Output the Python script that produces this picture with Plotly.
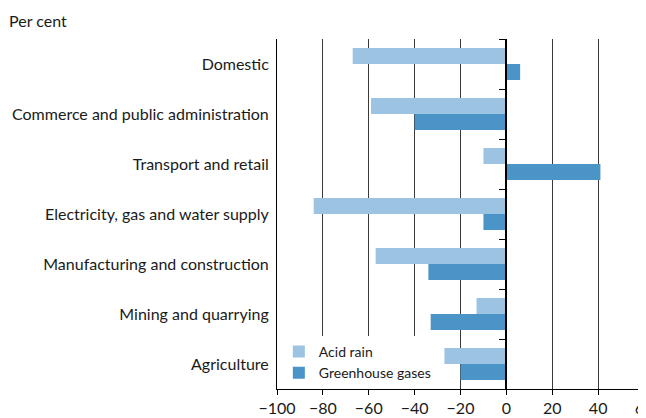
import plotly.graph_objects as go

sectors = [
    "Domestic",
    "Commerce and public administration",
    "Transport and retail",
    "Electricity, gas and water supply",
    "Manufacturing and construction",
    "Mining and quarrying",
    "Agriculture",
]
acid_rain = [-67, -59, -10, -84, -57, -13, -27]
greenhouse = [6, -40, 41, -10, -34, -33, -20]

light_blue = "#9cc3e2"
dark_blue = "#4b94c8"
font_name = "Lato"

fig = go.Figure()
fig.add_trace(go.Bar(y=sectors, x=acid_rain, orientation="h", name="Acid rain",
                     marker=dict(color=light_blue, line_width=0)))
fig.add_trace(go.Bar(y=sectors, x=greenhouse, orientation="h", name="Greenhouse gases",
                     marker=dict(color=dark_blue, line_width=0)))
# invisible trace so the zero axis has its categories
fig.add_trace(go.Scatter(y=sectors, x=[0] * len(sectors), yaxis="y2", mode="markers",
                         marker=dict(opacity=0), showlegend=False, hoverinfo="skip"))

# page body has an 8px margin, so the figure is sized to fit the window
fig.update_layout(
    width=638, height=410,
    margin=dict(l=269, r=2, t=31, b=29),
    paper_bgcolor="white", plot_bgcolor="white",
    font=dict(family=font_name, size=16, color="#1a1a1a"),
    barmode="group", bargap=0.36, bargroupgap=0,
    xaxis=dict(range=[-100, 60], dtick=20, showgrid=True, gridcolor="#3a3a3a", gridwidth=1,
               zeroline=False, showline=True, linecolor="black", linewidth=1,
               ticks="outside", ticklen=5, tickcolor="black", tickfont=dict(size=16),
               automargin=False, ticklabeloverflow="allow"),
    yaxis=dict(autorange="reversed", showline=True, linecolor="black", linewidth=1,
               ticks="", showgrid=False, tickfont=dict(size=16), automargin=False,
               ticklabelstandoff=4),
    yaxis2=dict(overlaying="y", anchor="free", position=0.625, side="left",
                autorange="reversed", matches="y", showticklabels=False,
                showline=True, linecolor="black", linewidth=1.5,
                ticks="outside", ticklen=7, tickcolor="black", tickson="boundaries",
                showgrid=False, automargin=False),
    legend=dict(x=0.005, y=0.0, xanchor="left", yanchor="bottom", bgcolor="white",
                font=dict(size=14), traceorder="normal", tracegroupgap=0),
    showlegend=True,
)
fig.add_annotation(text="Per cent", xref="paper", yref="paper", x=-0.735, y=1.054,
                   xanchor="left", yanchor="middle", showarrow=False, font=dict(size=16))

fig.write_html("out.html")
